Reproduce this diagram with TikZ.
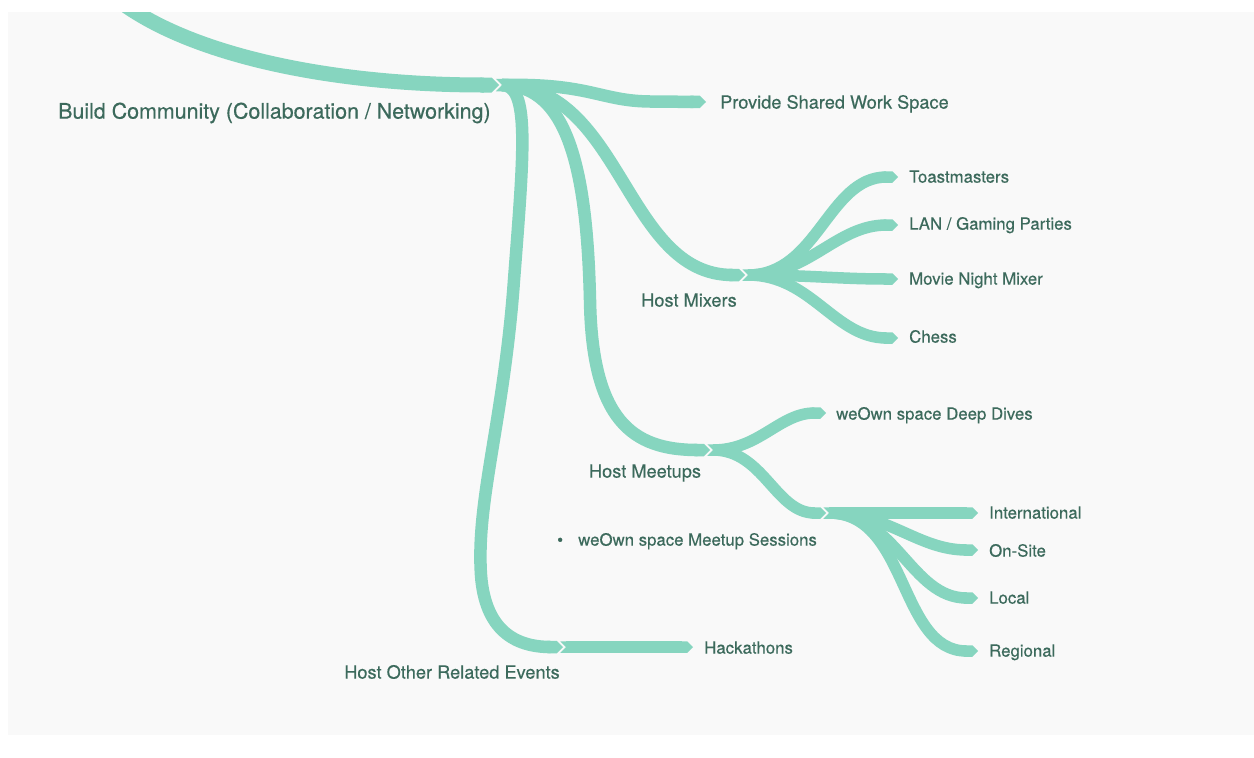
\documentclass[tikz,border=0pt]{standalone}
\usepackage{fontspec}
\setmainfont{TeX Gyre Heros}
\newfontfamily\lblfont{TeX Gyre Heros}[FakeBold=0.35]
\usetikzlibrary{arrows.meta}
\definecolor{branchc}{HTML}{86D5BF}
\definecolor{labelc}{HTML}{3C6A5C}
\definecolor{paper}{HTML}{F9F9F9}
\tikzset{
  branch/.style={draw=branchc, line width=11.5pt, line cap=butt, -{Triangle Cap[]}},
  mainbranch/.style={branch, line width=12.5pt},
  trunk/.style={branch, line width=15pt},
  label/.style={text=labelc, anchor=mid west, inner sep=0pt},
  leaf/.style={label, font=\lblfont\fontsize{16.8}{20}\selectfont},
  first/.style={label, font=\lblfont\fontsize{18.2}{21}\selectfont},
  firstmid/.style={first, anchor=mid},
  rootlabel/.style={label, font=\lblfont\fontsize{21.4}{25}\selectfont},
}
% notched start of the child branches at a junction point
\newcommand\notchstub[2]{%
  \fill[branchc] ([shift={(-#2,-#2)}]#1) -- ([shift={(1,-#2)}]#1) -- ([shift={(1,#2)}]#1)
    -- ([shift={(-#2,#2)}]#1) -- (#1) -- cycle;}
\begin{document}
\begin{tikzpicture}[x=1pt,y=-1pt]
\useasboundingbox (0,0) rectangle (1254,758);
\fill[white] (0,0) rectangle (1254,758);
\fill[paper] (8,12) rectangle (1254,735);

% parent tips (j*) and the notched starts of their children (n*)
\coordinate (top) at (118,0);
\coordinate (j1) at (499,85);      \coordinate (n1) at (502,85);
\coordinate (jmix) at (745,275);   \coordinate (nmix) at (748,275);
\coordinate (jmeet) at (710,450);  \coordinate (nmeet) at (713,450);
\coordinate (jsess) at (826,513);  \coordinate (nsess) at (829,513);
\coordinate (jother) at (563,647); \coordinate (nother) at (566,647);

% leaf tips
\coordinate (eShared) at (706,102);
\coordinate (eToast) at (898,177);
\coordinate (eLan) at (898,225);
\coordinate (eMovie) at (898,279);
\coordinate (eChess) at (898,338);
\coordinate (eDeep) at (826,413);
\coordinate (eIntl) at (978,513);
\coordinate (eSite) at (978,550);
\coordinate (eLocal) at (978,598);
\coordinate (eReg) at (978,651);
\coordinate (eHack) at (693,647);

% labels
\node[rootlabel] (root) at (58,116) {Build Community (Collaboration / Networking)};
\node[first] (shared) at (720,106) {Provide Shared Work Space};
\node[leaf] (toast) at (909,180) {Toastmasters};
\node[leaf] (lan) at (909,227) {LAN / Gaming Parties};
\node[leaf] (movie) at (909,282) {Movie Night Mixer};
\node[leaf] (chess) at (909,340) {Chess};
\node[firstmid] (mixers) at (689,304) {Host Mixers};
\node[leaf] (deep) at (836,417) {weOwn space Deep Dives};
\node[firstmid] (meetups) at (645,475) {Host Meetups};
\node[leaf] (bullet) at (557,543) {\textbullet};
\node[leaf] (sessions) at (578,543) {weOwn space Meetup Sessions};
\node[leaf] (intl) at (989,516) {International};
\node[leaf] (site) at (989,554) {On-Site};
\node[leaf] (local) at (989,601) {Local};
\node[leaf] (reg) at (989,654) {Regional};
\node[leaf] (hack) at (704,651) {Hackathons};
\node[firstmid] (other) at (452,676) {Host Other Related Events};

% first level branches
\path[mainbranch] (n1) .. controls (590,83) and (600,101) .. (650,101.5) -- (eShared);
\path[mainbranch] (n1) to[out=0,in=180] (jmix);
\path[mainbranch] (n1) .. controls (568,85) and (587,170) .. (590,300)
  .. controls (592,420) and (632,450) .. (jmeet);
\path[mainbranch] (n1) .. controls (530,85) and (524,150) .. (514,280)
  .. controls (504,420) and (476,500) .. (481,575)
  .. controls (485,630) and (515,647) .. (jother);

% mixers
\path[branch] (nmix) to[out=0,in=180] (eToast);
\path[branch] (nmix) to[out=0,in=180] (eLan);
\path[branch] (nmix) to[out=0,in=180] (eMovie);
\path[branch] (nmix) to[out=0,in=180] (eChess);

% meetups
\path[branch] (nmeet) to[out=0,in=180] (eDeep);
\path[branch] (nmeet) to[out=0,in=180] (jsess);
\path[branch] (nsess) -- (eIntl);
\path[branch] (nsess) to[out=0,in=180] (eSite);
\path[branch] (nsess) to[out=0,in=180] (eLocal);
\path[branch] (nsess) to[out=0,in=180] (eReg);

% other events
\path[branch] (nother) -- (eHack);

\notchstub{n1}{6.25}
\foreach \n in {nmix,nmeet,nsess,nother}{\notchstub{\n}{5.75}}

% trunk coming in from above
\begin{scope}
  \clip (8,12) rectangle (1254,735);
  \path[trunk] (top) .. controls (190,55) and (330,85) .. (j1);
\end{scope}
\end{tikzpicture}
\end{document}
